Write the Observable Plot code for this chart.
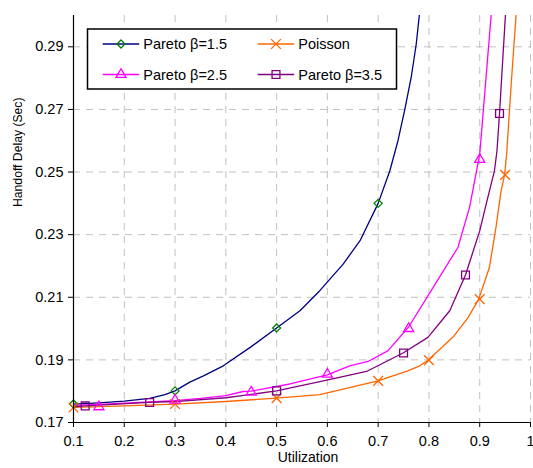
<!DOCTYPE html>
<html><head><meta charset="utf-8">
<script src="https://cdn.jsdelivr.net/npm/d3@7"></script>
<script src="https://cdn.jsdelivr.net/npm/@observablehq/plot@0.6"></script>
<style>body{margin:0;background:#fff}</style>
</head><body><div id="chart"></div>
<script>
// ---- data ----
const seriesNames = ["Pareto β=1.5", "Poisson", "Pareto β=2.5", "Pareto β=3.5"];
const lineColors = ["#000080", "#FF6600", "#FF00FF", "#800080"];
const markerColors = ["#008000", "#FF6600", "#FF00FF", "#800080"];
const markerSymbols = ["diamond2", "times", "triangle2", "square2"];

const xTicks = [0.1, 0.2, 0.3, 0.4, 0.5, 0.6, 0.7, 0.8, 0.9, 1];
const yTicks = [0.17, 0.19, 0.21, 0.23, 0.25, 0.27, 0.29];

// Pareto β=1.5
const p15U = [0.1, 0.15, 0.2, 0.25, 0.28, 0.3, 0.329, 0.356, 0.395, 0.448, 0.5, 0.546, 0.585, 0.631, 0.664, 0.7, 0.723, 0.739, 0.752, 0.765, 0.775, 0.782];
const p15D = [0.1759, 0.1763, 0.1768, 0.1777, 0.1789, 0.1801, 0.1829, 0.1849, 0.1881, 0.1940, 0.2002, 0.2057, 0.2121, 0.2206, 0.2280, 0.2400, 0.2504, 0.2600, 0.2696, 0.2802, 0.2909, 0.3015];
const p15MarkU = [0.1, 0.3, 0.5, 0.7];
const p15MarkD = [0.1759, 0.1801, 0.2002, 0.2400];

// Poisson
const poU = [0.1, 0.2, 0.3, 0.4, 0.5, 0.585, 0.7, 0.723, 0.756, 0.782, 0.798, 0.847, 0.877, 0.898, 0.919, 0.932, 0.942, 0.949, 0.953, 0.962, 0.972];
const poD = [0.1748, 0.1753, 0.1759, 0.1767, 0.1778, 0.1789, 0.1833, 0.1846, 0.1863, 0.1881, 0.1899, 0.1972, 0.2035, 0.2094, 0.2195, 0.2323, 0.2440, 0.2491, 0.2557, 0.2781, 0.3010];
const poMarkU = [0.1, 0.3, 0.5, 0.7, 0.8, 0.9, 0.95];
const poMarkD = [0.1748, 0.1759, 0.1778, 0.1833, 0.1899, 0.2094, 0.2491];

// Pareto β=2.5
const p25U = [0.1, 0.15, 0.2, 0.25, 0.3, 0.35, 0.4, 0.434, 0.45, 0.526, 0.6, 0.644, 0.68, 0.719, 0.76, 0.808, 0.857, 0.88, 0.9, 0.923];
const p25D = [0.1755, 0.1758, 0.1762, 0.1766, 0.1770, 0.1777, 0.1786, 0.1799, 0.1800, 0.1823, 0.1852, 0.1881, 0.1895, 0.1929, 0.2005, 0.2131, 0.2259, 0.2387, 0.2557, 0.3010];
const p25MarkU = [0.15, 0.3, 0.45, 0.6, 0.76, 0.9];
const p25MarkD = [0.1750, 0.1771, 0.1797, 0.1854, 0.2000, 0.2540];

// Pareto β=3.5
const p35U = [0.1, 0.123, 0.25, 0.3, 0.4, 0.428, 0.5, 0.592, 0.677, 0.749, 0.798, 0.841, 0.872, 0.9, 0.916, 0.929, 0.934, 0.939, 0.946, 0.951];
const p35D = [0.1750, 0.1753, 0.1764, 0.1767, 0.1779, 0.1785, 0.1801, 0.1833, 0.1863, 0.1922, 0.1972, 0.2057, 0.2171, 0.2312, 0.2419, 0.2504, 0.2568, 0.2687, 0.2877, 0.3010];
const p35MarkU = [0.123, 0.25, 0.5, 0.75, 0.872, 0.939];
const p35MarkD = [0.1753, 0.1764, 0.1801, 0.1922, 0.2171, 0.2687];

// ---- build tables ----
const lineU = [p15U, poU, p25U, p35U];
const lineD = [p15D, poD, p25D, p35D];
const markU = [p15MarkU, poMarkU, p25MarkU, p35MarkU];
const markD = [p15MarkD, poMarkD, p25MarkD, p35MarkD];
const markR = [3.6, 4.5, 4.8, 5.0];

const marks = [
  Plot.gridX(xTicks.slice(1), {stroke: "#c0c0c0", strokeOpacity: 1, strokeDasharray: "7,6", strokeWidth: 1}),
  Plot.gridY(yTicks.slice(1), {stroke: "#c0c0c0", strokeOpacity: 1, strokeDasharray: "7,6", strokeWidth: 1}),
];
seriesNames.forEach((name, i) => {
  const pts = lineU[i].map((u, j) => ({u, d: lineD[i][j]}));
  marks.push(Plot.line(pts, {x: "u", y: "d", stroke: lineColors[i], strokeWidth: 1.3, clip: true}));
});
seriesNames.forEach((name, i) => {
  const pts = markU[i].map((u, j) => ({u, d: markD[i][j]}));
  marks.push(Plot.dot(pts, {x: "u", y: "d", symbol: markerSymbols[i], r: markR[i], stroke: markerColors[i], fill: "none", strokeWidth: 1.3}));
});
marks.push(
  Plot.ruleX([0.1], {stroke: "#000", strokeWidth: 1.2}),
  Plot.ruleY([0.17], {stroke: "#000", strokeWidth: 1.2}),
  Plot.axisX(xTicks, {tickSize: 5, tickPadding: 8, tickFormat: d => String(d), label: null, fontSize: 14.5}),
  Plot.axisY(yTicks, {tickSize: 5, tickPadding: 5, tickFormat: d => d.toFixed(2), label: null, fontSize: 14.5}),
  Plot.text(["Handoff Delay (Sec)"], {frameAnchor: "left", dx: -55, dy: -12, rotate: -90, fontSize: 12.2}),
  Plot.text(["Utilization"], {frameAnchor: "bottom", dx: 6, dy: 39, fontSize: 14})
);

const chart = Plot.plot({
  width: 533, height: 468,
  marginLeft: 73, marginRight: 3, marginTop: 15, marginBottom: 46,
  x: {domain: [0.1, 1]},
  y: {domain: [0.17, 0.30]},
  style: {fontFamily: "'Liberation Sans', Arial, sans-serif", background: "#fff", color: "#000", overflow: "visible"},
  marks
});
document.getElementById("chart").appendChild(chart);

// ---- legend ----
const svg = d3.select(chart);
const lg = svg.append("g").attr("font-family", "'Liberation Sans', Arial, sans-serif")
  .attr("font-size", 14.5).attr("text-anchor", "start");
lg.append("rect").attr("x", 87.5).attr("y", 29).attr("width", 309).attr("height", 60)
  .attr("fill", "#fff").attr("stroke", "#000").attr("stroke-width", 1.5);
const d3sym = {diamond2: d3.symbolDiamond2, times: d3.symbolTimes, triangle2: d3.symbolTriangle2, square2: d3.symbolSquare2};
const cols = [102.7, 257.7];
const rows = [44, 74.5];
seriesNames.forEach((name, i) => {
  const cx = cols[i % 2], cy = rows[Math.floor(i / 2)];
  lg.append("line").attr("x1", cx).attr("x2", cx + 36.5).attr("y1", cy).attr("y2", cy)
    .attr("stroke", lineColors[i]).attr("stroke-width", 1.5);
  lg.append("path").attr("d", d3.symbol(d3sym[markerSymbols[i]], Math.PI * markR[i] * markR[i])())
    .attr("transform", `translate(${cx + 18.3},${cy})`).attr("fill", "none")
    .attr("stroke", markerColors[i]).attr("stroke-width", 1.3);
  lg.append("text").attr("x", cx + 40.6).attr("y", cy).attr("dy", "0.35em")
    .attr("text-anchor", "start").text(name);
});
</script>
</body></html>
